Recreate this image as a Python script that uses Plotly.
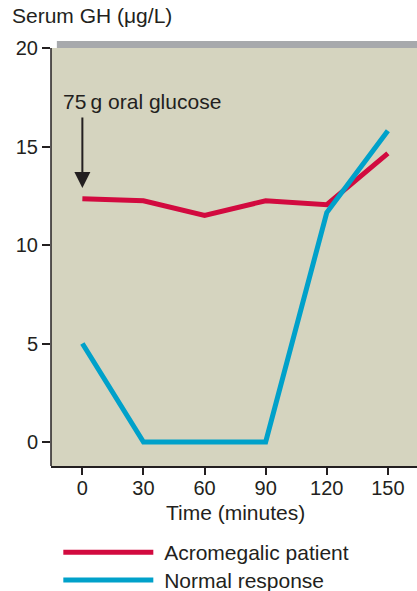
import plotly.graph_objects as go

# Datos
tiempo = [0, 30, 60, 90, 120, 150]
acromegalico = [12.35, 12.25, 11.5, 12.25, 12.05, 14.65]
normal = [5.0, 0.0, 0.0, 0.0, 11.65, 15.8]
y_ticks = [0, 5, 10, 15, 20]

rojo = "#D20A3F"
azul = "#00A1CA"
beige = "#D5D4BF"
gris = "#A7A9AC"
texto = "#231F20"
fuente = "Liberation Sans, Arial, sans-serif"

# Rangos de ejes
x_rango = [-15.4, 164.3]
y_rango = [-1.22, 20.36]

fig = go.Figure()
fig.add_trace(go.Scatter(x=tiempo, y=acromegalico, mode="lines", name="\u00a0Acromegalic patient",
                         line=dict(color=rojo, width=5), legend="legend"))
fig.add_trace(go.Scatter(x=tiempo, y=normal, mode="lines", name="\u00a0Normal response",
                         line=dict(color=azul, width=5), legend="legend2"))

#
# Fondo beige y franja gris superior
#
fig.add_shape(type="rect", xref="paper", yref="y", x0=0, x1=1, y0=y_rango[0], y1=20,
              fillcolor=beige, line_width=0, layer="below")
fig.add_shape(type="rect", xref="paper", yref="y", x0=0.016, x1=1, y0=20, y1=y_rango[1],
              fillcolor=gris, line_width=0, layer="below")
fig.add_shape(type="line", xref="paper", yref="y", x0=0, x1=0, y0=y_rango[0], y1=20,
              line=dict(color=texto, width=1.5))

#
# Anotaciones
#
fig.add_annotation(x=0, y=12.89, ax=0, ay=16.55, xref="x", yref="y", axref="x", ayref="y",
                   text="", showarrow=True, arrowhead=2, arrowsize=1.6, arrowwidth=2,
                   arrowcolor=texto)
fig.add_annotation(x=-10.3, y=17.3, xref="x", yref="y", text="75\u2009g oral glucose",
                   showarrow=False, xanchor="left", yanchor="middle",
                   font=dict(size=21, color=texto, family=fuente))
fig.add_annotation(x=-0.112, y=1.06, xref="paper", yref="paper", text="Serum GH (\u03bcg/L)",
                   showarrow=False, xanchor="left", yanchor="middle",
                   font=dict(size=21, color=texto, family=fuente))
fig.add_annotation(x=75, y=-0.1105, xref="x", yref="paper", text="Time (minutes)",
                   showarrow=False, xanchor="center", yanchor="middle",
                   font=dict(size=21, color=texto, family=fuente))

fig.update_xaxes(range=x_rango, tickvals=tiempo, ticks="outside", ticklen=7,
                 ticklabelstandoff=-4,
                 tickcolor=texto, tickwidth=1.5, showline=True, linecolor=texto,
                 linewidth=1.5, showgrid=False, zeroline=False,
                 tickfont=dict(size=20, color=texto, family=fuente))
fig.update_yaxes(range=y_rango, tickvals=y_ticks, ticks="outside", ticklen=8,
                 tickcolor=texto, tickwidth=1.5, showline=False, showgrid=False,
                 zeroline=False, tickfont=dict(size=20, color=texto, family=fuente))

leyenda = dict(x=0.02, xref="paper", yref="container", xanchor="left", yanchor="top",
               itemwidth=90, font=dict(size=21, color=texto, family=fuente),
               bgcolor="rgba(0,0,0,0)")

fig.update_layout(
    width=417, height=591,
    margin=dict(l=51, r=0, t=41, b=125, autoexpand=False),
    plot_bgcolor="white", paper_bgcolor="white",
    showlegend=True,
    legend=dict(leyenda, y=0.0998),
    legend2=dict(leyenda, y=0.0525),
)

# Quitamos el margen del body para que la figura quede en (0,0)
fig.write_html("out.html", config={"displayModeBar": False},
               post_script="document.body.style.margin='0';")
